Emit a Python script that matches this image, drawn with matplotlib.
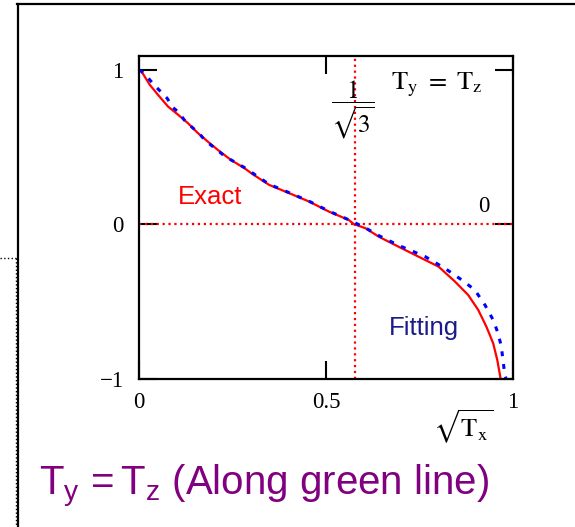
import matplotlib.pyplot as plt
from matplotlib.lines import Line2D
import numpy as np

# Exact solution, sqrt(Tx) vs. normalised value
exact_x = [0.0, 0.007, 0.029, 0.051, 0.078, 0.105, 0.131, 0.158, 0.184, 0.211,
           0.246, 0.282, 0.304, 0.348, 0.402, 0.455, 0.508, 0.561, 0.574, 0.606,
           0.641, 0.694, 0.747, 0.801, 0.845, 0.880, 0.907, 0.929, 0.947, 0.958,
           0.967]
exact_y = [1.0, 0.989, 0.903, 0.838, 0.762, 0.709, 0.655, 0.590, 0.536, 0.482,
           0.417, 0.364, 0.325, 0.256, 0.202, 0.148, 0.083, 0.029, 0.003, -0.025,
           -0.079, -0.144, -0.208, -0.273, -0.370, -0.456, -0.553, -0.662, -0.769,
           -0.877, -1.0]

# Fitted curve
fit_x = [0.0, 0.007, 0.025, 0.043, 0.060, 0.075, 0.091, 0.107, 0.121, 0.140,
         0.162, 0.177, 0.209, 0.230, 0.282, 0.348, 0.402, 0.455, 0.508, 0.561,
         0.606, 0.641, 0.694, 0.765, 0.818, 0.863, 0.898, 0.925, 0.947, 0.960,
         0.969, 0.973, 0.979, 0.982]
fit_y = [1.0, 0.990, 0.946, 0.896, 0.855, 0.817, 0.756, 0.724, 0.676, 0.633,
         0.586, 0.543, 0.482, 0.440, 0.368, 0.260, 0.205, 0.150, 0.086, 0.030,
         -0.023, -0.072, -0.135, -0.208, -0.284, -0.359, -0.424, -0.521, -0.618,
         -0.704, -0.791, -0.877, -0.985, -1.0]

x_ticks = [0, 0.5, 1]
x_tick_labels = ['0', '0.5', '1']
y_ticks = [-1, 0, 1]
y_tick_labels = ['\u22121', '0', '1']
inv_sqrt3 = 1 / np.sqrt(3)

W, H = 575, 527
fig = plt.figure(figsize=(W / 100, H / 100), dpi=100)
fig.patch.set_facecolor('white')


def px(x, y):
    return x / W, 1 - y / H


# surrounding frame lines
fig.add_artist(Line2D([17 / W, 1], [1 - 4 / H] * 2, color='black', lw=1.6,
                      transform=fig.transFigure))
fig.add_artist(Line2D([18 / W] * 2, [1 - 4 / H, 0], color='black', lw=1.6,
                      transform=fig.transFigure))
fig.add_artist(Line2D([0, 16 / W], [1 - 258 / H] * 2, color='black', lw=1,
                      ls=':', transform=fig.transFigure))
fig.add_artist(Line2D([16 / W] * 2, [1 - 258 / H, 0], color='black', lw=1,
                      ls=':', transform=fig.transFigure))

ax = fig.add_axes([139 / W, 1 - 379 / H, 374 / W, 323 / H])
ax.set_xlim(0, 1)
ax.set_ylim(-1, 1.09)

ax.axhline(0, color='red', ls=':', lw=1.6)
ax.axvline(inv_sqrt3, color='red', ls=':', lw=1.6)

ax.plot(exact_x, exact_y, color='red', lw=1.6)
ax.plot(fit_x, fit_y, color='blue', lw=2.2, ls=(0, (1.6, 2.6)))

for s in ax.spines.values():
    s.set_linewidth(1.6)

serif = 'Liberation Serif'
ax.set_xticks(x_ticks)
ax.set_xticklabels(x_tick_labels, family=serif, fontsize=16.5)
ax.set_yticks(y_ticks)
ax.set_yticklabels(y_tick_labels, family=serif, fontsize=16.5)
ax.tick_params(direction='in', length=13, width=1.5, top=True, right=True,
               pad=9)
ax.tick_params(axis='y', pad=11)

ax.text(0.104, 0.133, 'Exact', color='red', family='Liberation Sans',
        fontsize=18.5, va='baseline')
ax.text(0.668, -0.715, 'Fitting', color='#1a1a8a', family='Liberation Sans',
        fontsize=18.5, va='baseline')
ax.text(0.673, 0.871, r'$\mathrm{T_y\ =\ T_z}$', fontsize=19,
        math_fontfamily='stix', va='baseline')
ax.text(0.572, 0.741, r'$\dfrac{1}{\sqrt{3}}$', fontsize=18,
        math_fontfamily='stix', ha='center', va='center')
ax.text(0.923, 0.081, '0', family=serif, fontsize=16.5, ha='center',
        va='baseline')

fig.text(*px(463, 427), r'$\sqrt{\mathrm{T_x}}$', fontsize=19,
         math_fontfamily='stix', ha='center', va='center')

plt.rcParams['mathtext.fontset'] = 'custom'
plt.rcParams['mathtext.rm'] = 'Liberation Sans'
fig.text(*px(39, 495), r'T$_\mathrm{y}$ =$\,$T$_\mathrm{z}$ (Along green line)',
         color='#800080', family='Liberation Sans', fontsize=29,
         math_fontfamily='custom', va='baseline')

fig.savefig('out.png', dpi=100)
